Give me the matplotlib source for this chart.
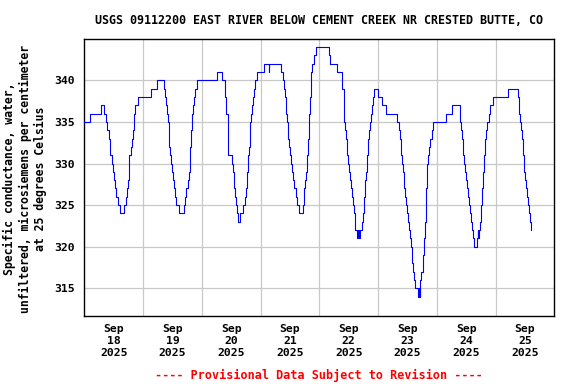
import matplotlib
matplotlib.use("Agg")
import matplotlib.pyplot as plt
import matplotlib.dates as mdates
from datetime import datetime, timedelta

# ---- data (hours after 2025-09-18 00:00, specific conductance uS/cm) ----
hours = [0.0, 2.5, 6.7, 8.2, 8.9, 9.4, 10.0, 10.6, 11.2, 11.6, 12.0, 12.4, 13.0, 13.7, 14.6,
         16.4, 16.9, 17.3, 17.7, 18.1, 18.4, 19.0, 19.5, 19.8, 20.2, 20.5, 20.9, 21.8, 27.3, 29.9,
         32.6, 32.9, 33.4, 33.8, 34.1, 34.5, 34.8, 35.2, 35.6, 35.9, 36.3, 36.7, 37.2, 37.6, 38.5,
         40.9, 41.3, 41.7, 42.2, 42.6, 43.0, 43.5, 43.9, 44.3, 44.7, 45.2, 46.0, 54.2,
         56.3, 57.3, 57.6, 58.0, 58.5, 58.9, 60.3, 60.7, 61.1, 61.5, 61.8, 62.2, 62.9,
         63.8, 64.7, 65.5, 65.9, 66.3, 66.7, 67.1, 67.6, 68.0, 68.4, 68.8, 69.2, 69.6, 70.5,
         73.3, 75.4, 75.6, 80.2, 81.0, 81.4, 81.8, 82.3, 82.7, 83.1, 83.5, 83.9, 84.3, 84.7,
         85.1, 85.5, 86.3, 86.7, 87.6, 89.2, 89.6, 90.0, 90.4, 90.8, 91.3, 91.7, 92.1, 92.5,
         92.9, 93.7, 94.5, 99.8, 100.3, 103.2, 105.2, 106.0, 106.4, 106.8, 107.2, 107.6, 108.0,
         108.4, 108.8, 109.3, 109.7, 110.1, 110.5, 111.3, 111.7, 112.1, 112.5, 113.4, 113.8,
         114.2, 114.6, 115.0, 115.4, 115.8, 116.2, 116.6, 117.0, 117.4, 117.8, 118.2, 120.0,
         121.8, 123.4, 127.8, 128.5, 128.9, 129.3, 129.7, 130.1, 130.5, 131.0, 131.3, 131.7,
         132.2, 132.6, 133.0, 133.4, 133.8, 134.2, 134.6, 135.0, 136.4, 136.7, 137.0, 137.3,
         137.7, 138.2, 138.6, 139.0, 139.4, 139.8, 140.2, 140.6, 141.0, 141.4, 142.2, 142.6,
         147.7, 150.2, 153.4, 153.6, 153.9, 154.4, 154.8, 155.2, 155.6, 156.0, 156.4, 156.9,
         157.3, 157.7, 158.1, 158.5, 158.9, 159.3, 160.3, 160.7, 161.0, 161.4, 161.8, 162.2,
         162.6, 163.0, 163.4, 163.8, 164.2, 164.6, 165.4, 165.9, 166.9, 173.1, 177.1, 177.5,
         177.7, 178.1, 178.5, 178.9, 179.3, 179.7, 180.1, 180.5, 180.9, 181.4, 181.8, 182.2, 182.6]
values = [335, 336, 337, 336, 335, 334, 333, 331, 330, 329, 328, 327, 326, 325, 324,
          325, 326, 327, 328, 329, 331, 332, 333, 334, 335, 336, 337, 338, 339, 340,
          339, 338, 337, 336, 335, 333, 332, 331, 330, 329, 328, 327, 326, 325, 324,
          325, 326, 327, 328, 329, 332, 334, 336, 337, 338, 339, 340, 341,
          340, 339, 338, 336, 335, 331, 330, 329, 327, 326, 325, 324, 323,
          324, 325, 326, 327, 329, 331, 332, 335, 336, 337, 338, 339, 340, 341,
          342, 341, 342, 341, 340, 339, 338, 336, 335, 333, 332, 331, 330, 329,
          328, 327, 326, 325, 324, 325, 327, 328, 329, 331, 333, 336, 338, 341,
          342, 343, 344, 343, 342, 341, 339, 335, 334, 333, 331, 330, 329,
          328, 327, 326, 325, 324, 322, 321, 322, 321, 322, 323, 324,
          326, 328, 329, 331, 333, 334, 335, 336, 337, 338, 339, 338,
          337, 336, 335, 334, 333, 331, 330, 329, 327, 326, 325, 324,
          323, 322, 321, 320, 318, 317, 316, 315, 314, 315, 314, 316,
          317, 319, 321, 323, 327, 328, 330, 331, 332, 333, 334, 335,
          336, 337, 336, 335, 334, 333, 331, 330, 329, 328, 327, 326,
          325, 324, 323, 322, 321, 320, 321, 322, 321, 322, 323, 325,
          327, 329, 331, 333, 334, 335, 336, 337, 338, 339, 338, 337,
          336, 335, 334, 333, 331, 329, 328, 327, 326, 325, 324, 323, 322]

start = datetime(2025, 9, 18)
day_labels = ["Sep\n18\n2025", "Sep\n19\n2025", "Sep\n20\n2025", "Sep\n21\n2025",
              "Sep\n22\n2025", "Sep\n23\n2025", "Sep\n24\n2025", "Sep\n25\n2025"]
yticks = [315, 320, 325, 330, 335, 340]

title = "USGS 09112200 EAST RIVER BELOW CEMENT CREEK NR CRESTED BUTTE, CO"
ylabel = "Specific conductance, water,\nunfiltered, microsiemens per centimeter\nat 25 degrees Celsius"
footer = "---- Provisional Data Subject to Revision ----"

FONT = "DejaVu Sans Mono"

times = [start + timedelta(hours=h) for h in hours]

fig = plt.figure(figsize=(5.76, 3.84), dpi=100)
ax = fig.add_axes([84.3 / 576, 1 - 316 / 384, (554.3 - 84.3) / 576, (316 - 39.3) / 384])

ax.plot(times, values, drawstyle="steps-post", color="#0000ff", lw=0.8, zorder=3)

ax.set_xlim(start, start + timedelta(days=8))
ax.set_ylim(311.67, 344.93)

# gridlines at midnight, labels at noon
midnights = [start + timedelta(days=i) for i in range(1, 8)]
noons = [start + timedelta(days=i, hours=12) for i in range(8)]
ax.set_xticks(midnights)
ax.set_xticklabels([""] * len(midnights))
ax.set_xticks(noons, minor=True)
ax.set_xticklabels(day_labels, minor=True, fontfamily=FONT, fontweight="bold",
                   fontsize=8.2, linespacing=1.25)
ax.tick_params(axis="x", which="both", length=0, pad=6)

ax.set_yticks(yticks)
ax.set_yticklabels([str(v) for v in yticks], fontfamily=FONT, fontweight="bold", fontsize=8.2)
ax.tick_params(axis="y", length=0, pad=7)

ax.grid(True, which="major", color="#c8c8c8", lw=0.9, zorder=0)
for s in ax.spines.values():
    s.set_color("black")
    s.set_linewidth(1.0)

fig.text(319 / 576, 1 - 20 / 384, title, ha="center", va="center",
         fontfamily=FONT, fontweight="bold", fontsize=8.35)
fig.text(25 / 576, 1 - 179 / 384, ylabel, ha="center", va="center", rotation=90,
         fontfamily=FONT, fontweight="bold", fontsize=8.3, linespacing=1.25)
fig.text(319 / 576, 1 - 375 / 384, footer, ha="center", va="center",
         fontfamily=FONT, fontweight="bold", fontsize=8.5, color="#ff0000")

fig.savefig("out.png", dpi=100)
